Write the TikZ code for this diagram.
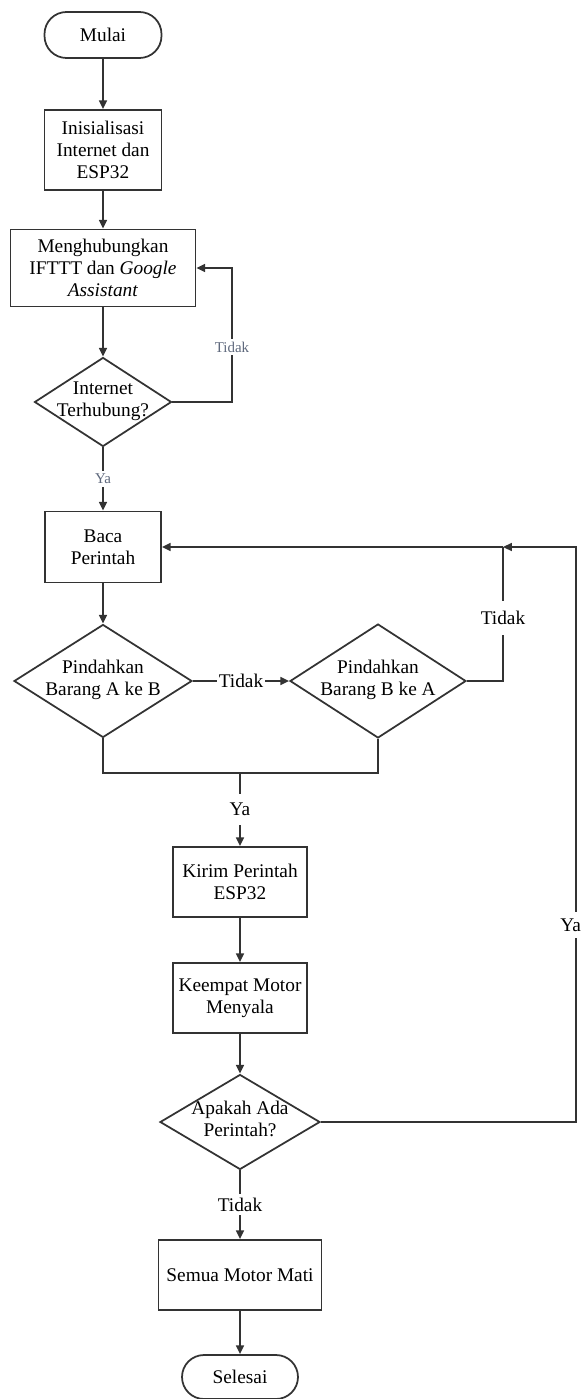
\documentclass[tikz,border=0pt]{standalone}
\usepackage{fontspec}
\setmainfont{Liberation Serif}
\usepackage{tikz}
\usetikzlibrary{arrows.meta}
\usetikzlibrary{shapes.geometric}

\definecolor{slate}{RGB}{95,105,125}
\newcommand{\dtxt}[1]{\smash{\makebox[0pt]{\raisebox{-0.4ex}{\begin{tabular}{@{}c@{}}#1\end{tabular}}}}}

\begin{document}
\begin{tikzpicture}[x=0.02cm,y=-0.02cm,
        garis/.style={draw=black!80,line width=1pt},
        panah/.style={garis,-{Triangle[length=5pt,width=4.5pt]}},
        proses/.style={garis,rectangle,align=center,inner sep=1pt,font=\fontsize{11}{12.5}\selectfont},
        terminal/.style={proses,rounded corners=0.44cm},
        keputusan/.style={garis,diamond,inner sep=0pt,font=\fontsize{11}{12.5}\selectfont},
        lbl/.style={fill=white,inner sep=2pt,font=\fontsize{11}{12.5}\selectfont},
        lblkecil/.style={fill=white,inner sep=1.5pt,text=slate,font=\fontsize{8.5}{10}\selectfont}]
        \useasboundingbox (0,0) rectangle (583,1399);
        % bagian atas
        \node[terminal,minimum width=2.34cm,minimum height=0.92cm] (mulai) at (103,35) {Mulai};
        \node[proses,minimum width=2.34cm,minimum height=1.6cm] (init) at (103,150) {Inisialisasi\\Internet dan\\ESP32};
        \node[proses,minimum width=3.7cm,minimum height=1.54cm] (hub) at (103,268) {Menghubungkan\\IFTTT dan \textit{Google}\\\textit{Assistant}};
        \node[keputusan,minimum width=2.74cm,minimum height=1.78cm] (net) at (103,402) {\dtxt{Internet\\Terhubung?}};
        \node[proses,minimum width=2.32cm,minimum height=1.42cm] (baca) at (103,547) {Baca\\Perintah};
        % dua pilihan
        \node[keputusan,minimum width=3.56cm,minimum height=2.26cm] (pindahAB) at (103,681) {\dtxt{Pindahkan\\Barang A ke B}};
        \node[keputusan,minimum width=3.52cm,minimum height=2.28cm] (pindahBA) at (378,681) {\dtxt{Pindahkan\\Barang B ke A}};
        % bagian bawah
        \node[proses,minimum width=2.68cm,minimum height=1.4cm] (kirim) at (240,882) {Kirim Perintah\\ESP32};
        \node[proses,minimum width=2.68cm,minimum height=1.4cm] (keempat) at (240,998) {Keempat Motor\\Menyala};
        \node[keputusan,minimum width=3.2cm,minimum height=1.9cm] (apakah) at (240,1122) {\dtxt{Apakah Ada\\Perintah?}};
        \node[proses,minimum width=3.26cm,minimum height=1.4cm] (semua) at (240,1275) {Semua Motor Mati};
        \node[terminal,minimum width=2.32cm,minimum height=0.88cm] (selesai) at (240,1377) {Selesai};

        \coordinate (sudut1) at (232,268);
        \coordinate (gabung) at (240,773);
        \coordinate (temu) at (503,547);
        \coordinate (sudut2) at (576,547);

        \draw[panah] (mulai) -- (init);
        \draw[panah] (init) -- (hub);
        \draw[panah] (hub) -- (net);
        \draw[panah] (net.east) -| (sudut1) -- (hub.east);
        \node[lblkecil] (tidak1) at (232,347) {Tidak};
        \draw[panah] (net) -- node[lblkecil] (ya1) {Ya} (baca);
        \draw[panah] (baca) -- (pindahAB);
        \draw[panah] (pindahAB) -- node[lbl,inner sep=1pt] (tidak2) {Tidak} (pindahBA);
        \draw[garis] (pindahBA.east) -| (temu);
        \node[lbl,inner ysep=6pt] (tidak3) at (503,618) {Tidak};
        \draw[garis] (pindahAB.south) -- ++(0,35) -| (pindahBA.south);
        \draw[panah] (gabung) -- node[lbl,inner sep=5pt] (ya2) {Ya} (kirim);
        \draw[panah] (kirim) -- (keempat);
        \draw[panah] (keempat) -- (apakah);
        \draw[panah] (apakah.east) -| (sudut2) -- (temu);
        \node[lbl,inner xsep=1pt,inner ysep=4pt,anchor=east] (ya3) at (583,925) {Ya};
        \draw[panah] (temu) -- (baca.east);
        \draw[panah] (apakah) -- node[lbl] (tidak4) {Tidak} (semua);
        \draw[panah] (semua) -- (selesai);
\end{tikzpicture}
\end{document}
